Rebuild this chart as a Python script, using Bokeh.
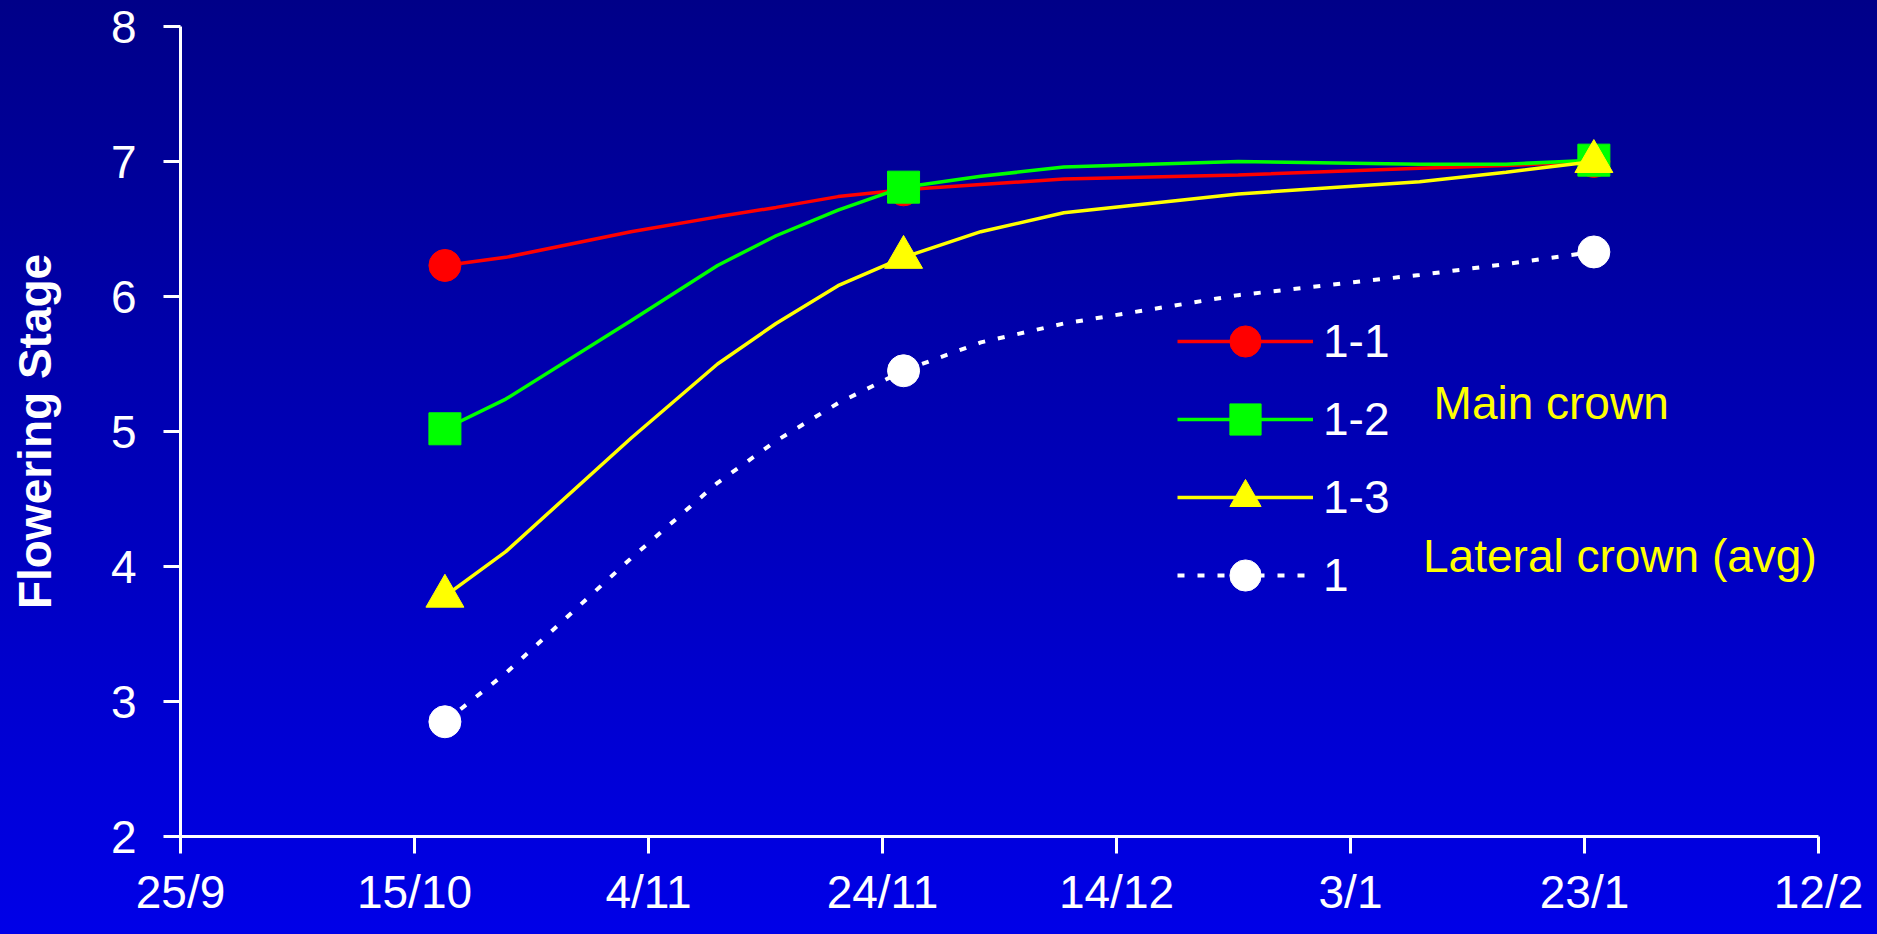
from bokeh.plotting import figure
from bokeh.models import Range1d, FixedTicker, Legend, LegendItem, Label
from bokeh.embed import file_html
from bokeh.resources import INLINE

# x positions are days counted from 25/9
tick_days = [0, 20, 40, 60, 80, 100, 120, 140]
tick_labels = ["25/9", "15/10", "4/11", "24/11", "14/12", "3/1", "23/1", "12/2"]
y_ticks = [2, 3, 4, 5, 6, 7, 8]

# measured points (markers)
marker_days = [22.6, 61.8, 120.8]
main_11 = [6.23, 6.79, 7.00]
main_12 = [5.02, 6.81, 7.01]
main_13 = [3.78, 6.29, 7.00]
lateral_1 = [2.85, 5.45, 6.33]

# smoothed curves as drawn in the original chart
curve_days = [22.6, 27.8, 38.5, 45.9, 50.9, 56.2, 61.8, 68.4, 75.5, 90.4, 105.9, 113.3, 120.8]
curve_11 = [6.23, 6.29, 6.48, 6.59, 6.66, 6.74, 6.79, 6.83, 6.87, 6.90, 6.95, 6.97, 7.00]
curve_12 = [5.02, 5.24, 5.82, 6.23, 6.45, 6.64, 6.81, 6.89, 6.96, 7.00, 6.98, 6.98, 7.01]
curve_13 = [3.78, 4.11, 4.95, 5.50, 5.80, 6.08, 6.29, 6.48, 6.62, 6.76, 6.85, 6.92, 7.00]
curve_1 = [2.85, 3.21, 4.06, 4.62, 4.93, 5.21, 5.45, 5.66, 5.80, 6.01, 6.16, 6.24, 6.33]

FONT = "Liberation Sans"
W, H = 1877, 934

p = figure(width=W, height=H, output_backend="svg", toolbar_location=None,
           x_range=Range1d(0, 140), y_range=Range1d(2, 8),
           min_border_left=180, min_border_right=59, min_border_top=26, min_border_bottom=98)

# vertical gradient background via CSS on the figure element
p.styles = {"background": "linear-gradient(to bottom, #000088, #0000e8)"}
p.background_fill_color = None
p.border_fill_color = None
p.outline_line_color = None
p.xgrid.grid_line_color = None
p.ygrid.grid_line_color = None

# axes
for ax in (p.xaxis[0], p.yaxis[0]):
    ax.axis_line_color = "white"
    ax.axis_line_width = 3
    ax.major_tick_line_color = "white"
    ax.major_tick_line_width = 3
    ax.major_tick_out = 17
    ax.major_tick_in = 0
    ax.minor_tick_line_color = None
    ax.major_label_text_color = "white"
    ax.major_label_text_font = FONT
    ax.major_label_text_font_size = "46px"

p.xaxis.ticker = FixedTicker(ticks=tick_days)
p.xaxis.major_label_overrides = {d: l for d, l in zip(tick_days, tick_labels)}
p.xaxis.major_label_standoff = 12
p.yaxis.ticker = FixedTicker(ticks=y_ticks)
p.yaxis.major_label_standoff = 27
p.yaxis.axis_label = "Flowering Stage"
p.yaxis.axis_label_text_color = "white"
p.yaxis.axis_label_text_font = FONT
p.yaxis.axis_label_text_font_size = "46px"
p.yaxis.axis_label_text_font_style = "bold"
p.yaxis.axis_label_standoff = 47

series = [
    ("1-1", curve_11, main_11, "#ff0000", "circle", 32, None),
    ("1-2", curve_12, main_12, "#00ff00", "square", 32, None),
    ("1-3", curve_13, main_13, "#ffff00", "triangle", 38, None),
    ("1", curve_1, lateral_1, "#ffffff", "circle", 32, "7 13"),
]
items = []
for name, curve, pts, color, marker, size, dash in series:
    kw = {}
    if dash:
        kw["line_dash"] = dash
    ln = p.line(curve_days, curve, line_color=color, line_width=4 if dash else 3.5, **kw)
    sc = p.scatter(marker_days, pts, marker=marker, size=size, fill_color=color, line_color=color)
    items.append(LegendItem(label=name, renderers=[ln, sc]))

legend = Legend(items=items, location=(997, 222), orientation="vertical",
                glyph_width=136, glyph_height=78, label_height=78, spacing=0,
                padding=0, margin=0, label_standoff=10,
                label_text_color="white", label_text_font=FONT,
                label_text_font_size="46px", label_text_baseline="middle",
                border_line_color=None, background_fill_alpha=0)
p.add_layout(legend, "center")

p.add_layout(Label(x=107.1, y=5.21, text="Main crown", text_color="#ffff00",
                   text_font=FONT, text_font_size="46px", text_baseline="middle"))
p.add_layout(Label(x=106.2, y=4.08, text="Lateral crown (avg)", text_color="#ffff00",
                   text_font=FONT, text_font_size="46px", text_baseline="middle"))

open("out.html", "w").write(file_html(p, INLINE))
